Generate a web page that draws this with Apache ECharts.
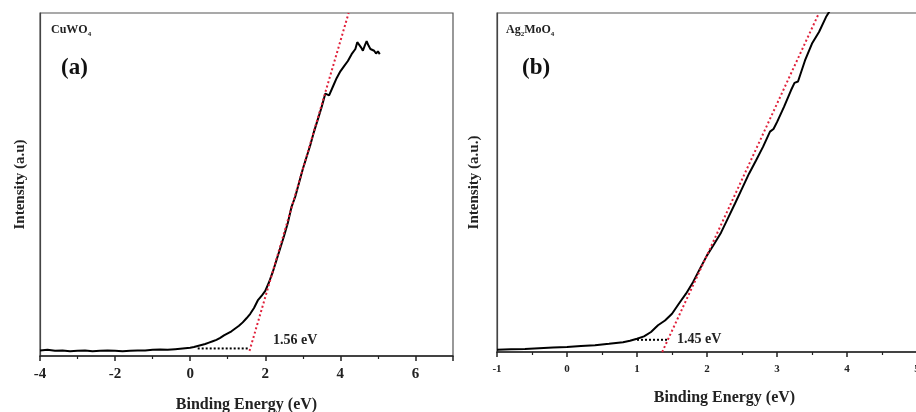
<!DOCTYPE html>
<html>
<head>
<meta charset="utf-8">
<script src="https://cdn.jsdelivr.net/npm/echarts@6/dist/echarts.min.js"></script>
<style>
html,body{margin:0;padding:0;background:#fff;}
#c{width:916px;height:412px;}
</style>
</head>
<body>
<div id="c"></div>
<script>
// ---- Panel (a): CuWO4 ----
var energyA = [-4.0,-3.8,-3.6,-3.4,-3.2,-3.0,-2.8,-2.6,-2.4,-2.2,-2.0,-1.8,-1.6,-1.4,-1.2,-1.0,-0.8,-0.6,-0.4,-0.2,0.0,0.1,0.2,0.3,0.4,0.5,0.6,0.7,0.8,0.9,1.0,1.1,1.2,1.3,1.4,1.5,1.6,1.7,1.8,1.9,2.0,2.1,2.2,2.3,2.4,2.5,2.6,2.7,2.8,2.9,3.0,3.1,3.2,3.3,3.4,3.5,3.6,3.7,3.8,3.9,4.0,4.1,4.2,4.3,4.4,4.45,4.5,4.55,4.6,4.65,4.7,4.75,4.8,4.85,4.9,4.95,5.0,5.05];
var intensityA = [1.6,1.8,1.5,1.6,1.4,1.5,1.6,1.4,1.5,1.6,1.5,1.4,1.5,1.6,1.6,1.8,1.9,1.8,2.0,2.2,2.4,2.6,2.9,3.2,3.5,3.9,4.3,4.7,5.3,6.0,6.6,7.2,8.0,8.8,9.8,11.0,12.3,14.0,16.2,17.5,19.0,21.5,24.5,28.0,31.5,35.0,38.8,43.5,46.5,50.5,54.5,58.0,61.5,65.5,69.0,72.5,76.5,76.0,78.5,81.0,83.0,84.5,86.0,88.0,89.5,91.5,92.0,90.0,89.0,90.5,91.8,90.5,89.5,90.0,89.0,88.2,88.8,88.0];
var fitA = [[1.58,1.5],[4.22,100]];
var baseA = [[0.2,2.2],[1.56,2.2]];
var gapA = '1.56 eV';
var ticksA = [-4,-2,0,2,4,6];

// ---- Panel (b): Ag2MoO4 ----
var energyB = [-1.0,-0.8,-0.6,-0.4,-0.2,0.0,0.2,0.4,0.5,0.6,0.8,0.9,1.0,1.1,1.2,1.3,1.4,1.5,1.6,1.7,1.8,1.9,2.0,2.1,2.2,2.3,2.4,2.5,2.6,2.7,2.8,2.9,2.95,3.0,3.1,3.2,3.25,3.3,3.4,3.5,3.6,3.7,3.75];
var intensityB = [0.7,0.8,0.9,1.1,1.3,1.5,1.8,2.0,2.2,2.4,2.9,3.3,3.9,4.6,5.9,7.9,9.3,11.3,14.3,17.2,20.6,24.6,28.5,31.8,35.2,39.5,43.8,48.2,52.6,56.5,60.5,65.0,65.8,67.8,72.3,77.2,79.4,79.8,86.0,91.0,94.4,98.8,100.5];
var fitB = [[1.36,0],[3.6,100]];
var baseB = [[1.0,3.6],[1.45,3.6]];
var gapB = '1.45 eV';
var ticksB = [-1,0,1,2,3,4,5];

function zip(a,b){var r=[];for(var i=0;i<a.length;i++)r.push([a[i],b[i]]);return r;}

var FONT = '"Liberation Serif", "Times New Roman", serif';
var chart = echarts.init(document.getElementById('c'));

function xAxisCfg(idx, min, max, interval, fs, ticks){
  return {
    type:'value', gridIndex:idx, min:min, max:max, interval:interval,
    name:'Binding Energy (eV)', nameLocation:'middle', nameGap: idx===0?41:38,
    nameTextStyle:{fontFamily:FONT,fontWeight:'bold',fontSize:16,color:'#222'},
    axisLine:{show:true,onZero:false,lineStyle:{color:'#222',width:1.5}},
    axisTick:{show:true,inside:false,length:5,lineStyle:{color:'#222',width:1.5}},
    minorTick:{show:true,splitNumber:2,length:3,lineStyle:{color:'#222',width:1.2}},
    splitLine:{show:false},
    axisLabel:{fontFamily:FONT,fontWeight:'bold',fontSize:fs,color:'#222',margin:idx===0?11:12,
      formatter:function(v){return ticks.indexOf(v)>=0?String(v):'';}}
  };
}
function yAxisCfg(idx, name, max){
  return {
    type:'value', gridIndex:idx, min:0, max:max,
    name:name, nameLocation:'middle', nameGap: idx===0?12:15, nameRotate:90,
    nameTextStyle:{fontFamily:FONT,fontWeight:'bold',fontSize:15,color:'#222'},
    axisLine:{show:true,onZero:false,lineStyle:{color:'#444',width:1.2}},
    axisTick:{show:false}, axisLabel:{show:false}, splitLine:{show:false}
  };
}

chart.setOption({
  animation:false,
  backgroundColor:'#fff',
  grid:[
    {left:40, top:13, width:413, height:343, outerBoundsMode:'none', containLabel:false, show:true, borderColor:'#555', borderWidth:1.2, backgroundColor:'transparent'},
    {left:497, top:13, width:455, height:339, outerBoundsMode:'none', containLabel:false, show:true, borderColor:'#555', borderWidth:1.2, backgroundColor:'transparent'}
  ],
  xAxis:[ xAxisCfg(0,-4,7,2,15,ticksA), xAxisCfg(1,-1,5.5,1,11,ticksB) ],
  yAxis:[ yAxisCfg(0,'Intensity (a.u)',100), yAxisCfg(1,'Intensity (a.u.)',100) ],
  series:[
    {type:'line', xAxisIndex:0, yAxisIndex:0, data:zip(energyA,intensityA), showSymbol:false, lineStyle:{color:'#000',width:2}, z:3},
    {type:'line', xAxisIndex:0, yAxisIndex:0, data:fitA, showSymbol:false, lineStyle:{color:'#e0203a',width:2,type:[2,2.5]}, z:4},
    {type:'line', xAxisIndex:0, yAxisIndex:0, data:baseA, showSymbol:false, lineStyle:{color:'#000',width:2,type:[2,2]}, z:2},
    {type:'line', xAxisIndex:1, yAxisIndex:1, data:zip(energyB,intensityB), showSymbol:false, lineStyle:{color:'#000',width:2}, z:3},
    {type:'line', xAxisIndex:1, yAxisIndex:1, data:fitB, showSymbol:false, lineStyle:{color:'#e0203a',width:2,type:[2,2.5]}, z:4},
    {type:'line', xAxisIndex:1, yAxisIndex:1, data:baseB, showSymbol:false, lineStyle:{color:'#000',width:2,type:[2,2]}, z:2}
  ],
  graphic:[
    {type:'text', left:51, top:24, style:{text:'{m|CuWO}{s|4}', rich:{m:{fontFamily:FONT,fontWeight:'bold',fontSize:12,fill:'#222'}, s:{fontFamily:FONT,fontWeight:'bold',fontSize:7,fill:'#222',padding:[8,0,0,0]}}}},
    {type:'text', left:61, top:57, style:{text:'(a)', fontFamily:FONT, fontWeight:'bold', fontSize:23, fill:'#111'}},
    {type:'text', left:273, top:333, style:{text:gapA, fontFamily:FONT, fontWeight:'bold', fontSize:14, fill:'#222'}},
    {type:'text', left:506, top:24, style:{text:'{m|Ag}{s|2}{m|MoO}{s|4}', rich:{m:{fontFamily:FONT,fontWeight:'bold',fontSize:12,fill:'#222'}, s:{fontFamily:FONT,fontWeight:'bold',fontSize:7,fill:'#222',padding:[8,0,0,0]}}}},
    {type:'text', left:522, top:57, style:{text:'(b)', fontFamily:FONT, fontWeight:'bold', fontSize:23, fill:'#111'}},
    {type:'text', left:677, top:332, style:{text:gapB, fontFamily:FONT, fontWeight:'bold', fontSize:14, fill:'#222'}}
  ]
});
</script>
</body>
</html>
